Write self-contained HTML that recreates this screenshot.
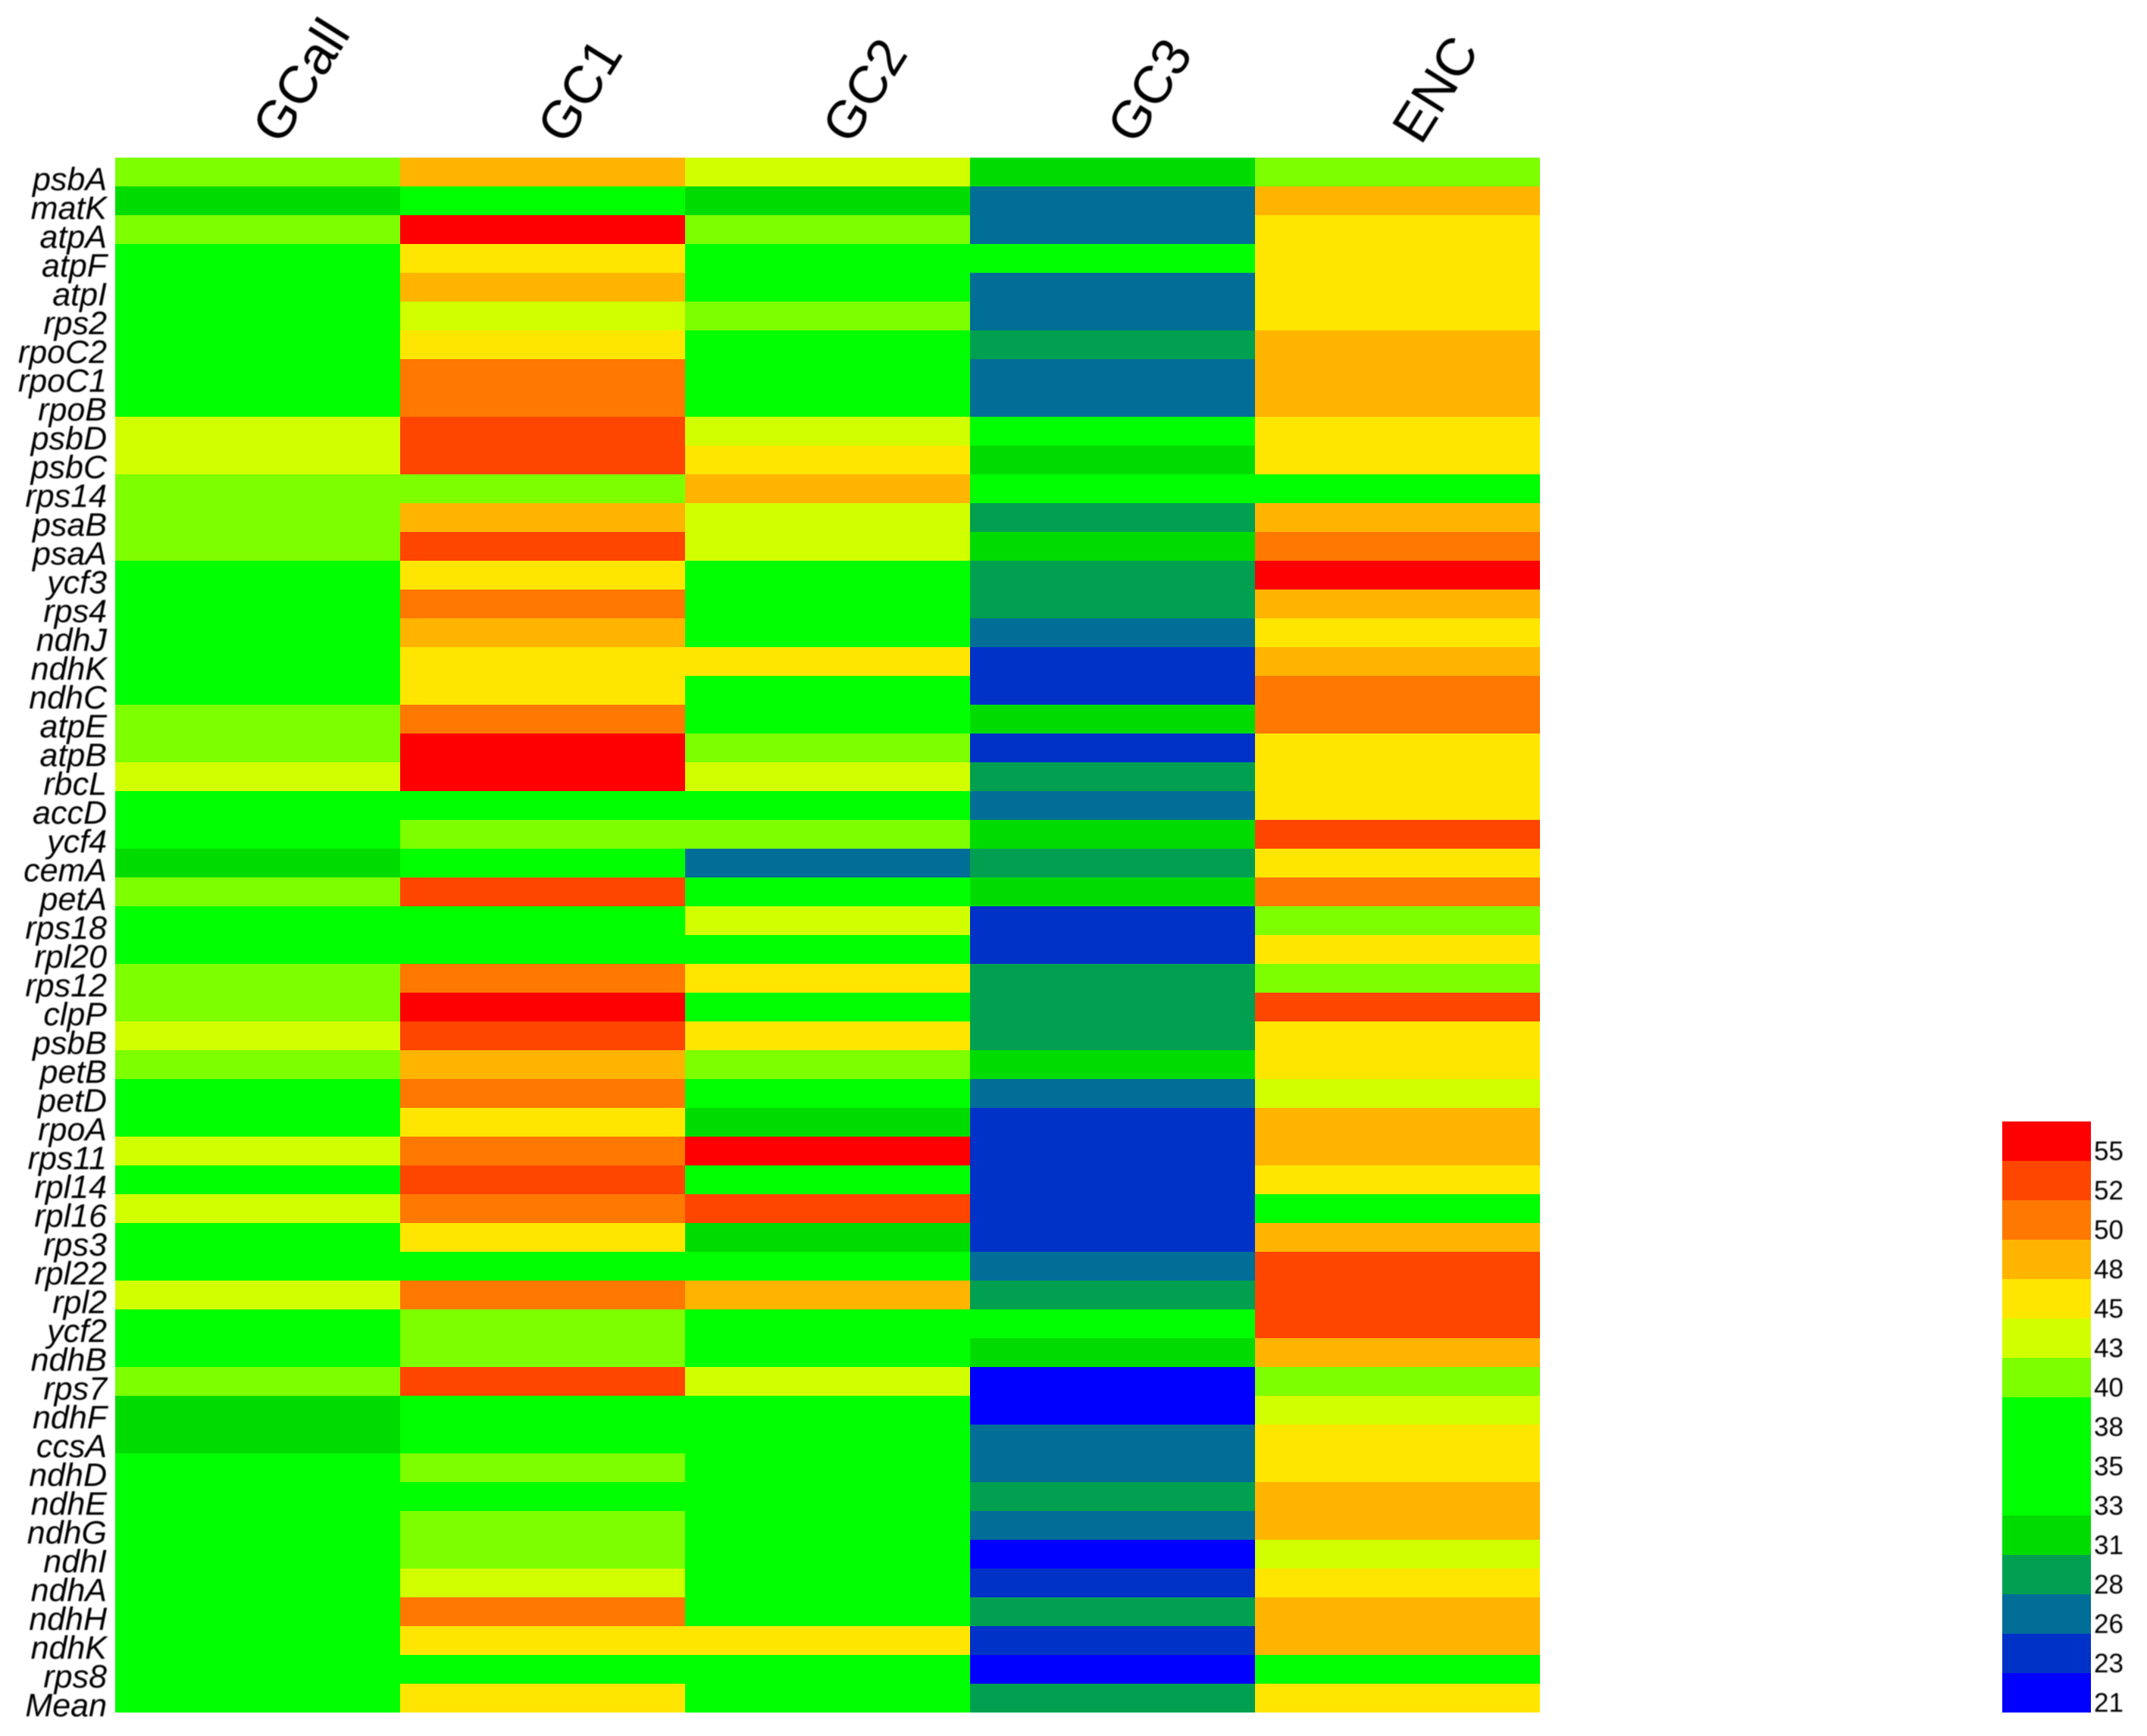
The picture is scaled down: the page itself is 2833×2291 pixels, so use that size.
<!DOCTYPE html>
<html lang="en">
<head>
<meta charset="utf-8">
<title>Codon usage heatmap</title>
<style>
  html, body { margin: 0; padding: 0; background: #ffffff; }
  body { width: 2833px; height: 2291px; overflow: hidden; }
  svg { display: block; }
  text { font-family: "Liberation Sans", Arial, sans-serif; fill: #000; }
</style>
</head>
<body>
<svg id="chart" xmlns="http://www.w3.org/2000/svg" width="2833" height="2291" viewBox="0 0 2833 2291">
  <defs>
    <filter id="soft" x="-5%" y="-5%" width="110%" height="110%"><feGaussianBlur stdDeviation="0.7"></feGaussianBlur></filter>
  </defs>
  <rect x="0" y="0" width="2833" height="2291" fill="#ffffff"></rect>
  <g id="cells" shape-rendering="crispEdges"></g>
  <g id="col-labels" filter="url(#soft)"></g>
  <g id="row-labels" filter="url(#soft)"></g>
  <g id="legend"></g>
</svg>
<script>
const genes = ["psbA","matK","atpA","atpF","atpI","rps2","rpoC2","rpoC1","rpoB","psbD","psbC","rps14","psaB","psaA","ycf3","rps4","ndhJ","ndhK","ndhC","atpE","atpB","rbcL","accD","ycf4","cemA","petA","rps18","rpl20","rps12","clpP","psbB","petB","petD","rpoA","rps11","rpl14","rpl16","rps3","rpl22","rpl2","ycf2","ndhB","rps7","ndhF","ccsA","ndhD","ndhE","ndhG","ndhI","ndhA","ndhH","ndhK","rps8","Mean"];
const metrics = ["GCall","GC1","GC2","GC3","ENC"];
const gcAll = [40,31,40,35,35,35,35,35,35,43,43,40,40,40,35,35,35,35,35,40,40,43,35,35,31,40,35,35,40,40,43,40,35,35,43,35,43,35,35,43,35,35,40,31,31,35,35,35,35,35,35,35,35,35];
const gc1 = [48,35,55,45,48,43,45,50,50,52,52,40,48,52,45,50,48,45,45,50,55,55,35,40,35,52,35,35,50,55,52,48,50,45,50,52,50,45,35,50,40,40,52,35,35,40,35,40,40,43,50,45,35,45];
const gc2 = [43,31,40,35,35,40,35,35,35,43,45,48,43,43,35,35,35,45,35,35,40,43,35,40,26,35,43,35,45,35,45,40,35,31,55,35,52,31,35,48,35,35,43,35,35,35,35,35,35,35,35,45,35,35];
const gc3 = [31,26,26,35,26,26,28,26,26,35,31,35,28,31,28,28,26,23,23,31,23,28,26,31,28,31,23,23,28,28,28,31,26,23,23,23,23,23,26,28,35,31,21,21,26,26,28,26,21,23,28,23,21,28];
const enc = [40,48,45,45,45,45,48,48,48,45,45,35,48,50,55,48,45,48,50,50,45,45,45,52,45,50,40,45,40,52,45,45,43,48,48,45,35,48,52,52,52,48,40,43,45,45,48,48,43,45,48,48,35,45];
const legendTicks = [55,52,50,48,45,43,40,38,35,33,31,28,26,23,21];
const palette = ["#ff0000","#ff4600","#ff7800","#ffb400","#ffe600","#d2ff00","#7dff00","#00ff00","#00ff00","#00ff00","#00dc00","#00a050","#006e96","#0032c8","#0000ff"];

const svgNS = "http://www.w3.org/2000/svg";
const plot = { left: 152, top: 208, right: 2032, bottom: 2260 };
const legendBox = { left: 2642, right: 2759, top: 1480, bottom: 2260 };
const seriesList = [gcAll, gc1, gc2, gc3, enc];

function xScale(col) { return plot.left + col * (plot.right - plot.left) / metrics.length; }
function yScale(row) { return plot.top + row * (plot.bottom - plot.top) / genes.length; }
function legendY(i) { return legendBox.top + i * (legendBox.bottom - legendBox.top) / legendTicks.length; }
function colorFor(value) {
  let best = 0;
  for (let i = 0; i < legendTicks.length; i++) {
    if (Math.abs(legendTicks[i] - value) < Math.abs(legendTicks[best] - value)) best = i;
  }
  return palette[best];
}
function make(tag, attrs, parent, content) {
  const el = document.createElementNS(svgNS, tag);
  for (const k in attrs) el.setAttribute(k, attrs[k]);
  if (content !== undefined) el.textContent = content;
  parent.appendChild(el);
  return el;
}

const cellsG = document.getElementById("cells");
seriesList.forEach(function (series, c) {
  series.forEach(function (value, r) {
    const rect = make("rect", {
      x: xScale(c), y: yScale(r),
      width: xScale(c + 1) - xScale(c), height: yScale(r + 1) - yScale(r),
      fill: colorFor(value)
    }, cellsG);
    
    
  });
});

const rowG = document.getElementById("row-labels");
genes.forEach(function (g, r) {
  const t = make("text", {
    x: 141, y: yScale(r + 1) + 5,
    "text-anchor": "end", "font-size": 43, "font-style": "italic"
  }, rowG, g);
  
  
});

const colG = document.getElementById("col-labels");
metrics.forEach(function (m, c) {
  const cx = (xScale(c) + xScale(c + 1)) / 2 + 31;
  const t = make("text", {
    transform: "translate(" + cx + " 193) rotate(-58)",
    "font-size": 70
  }, colG, m);
  
  
});

const legG = document.getElementById("legend");
legendTicks.forEach(function (tick, i) {
  const rect = make("rect", {
    x: legendBox.left, y: legendY(i),
    width: legendBox.right - legendBox.left, height: legendY(i + 1) - legendY(i),
    fill: palette[i], "shape-rendering": "crispEdges"
  }, legG);
  
  
  const t = make("text", {
    x: legendBox.right + 4, y: legendY(i + 1) - 1,
    "font-size": 35, filter: "url(#soft)"
  }, legG, tick);
  
  
});
</script>
</body>
</html>
